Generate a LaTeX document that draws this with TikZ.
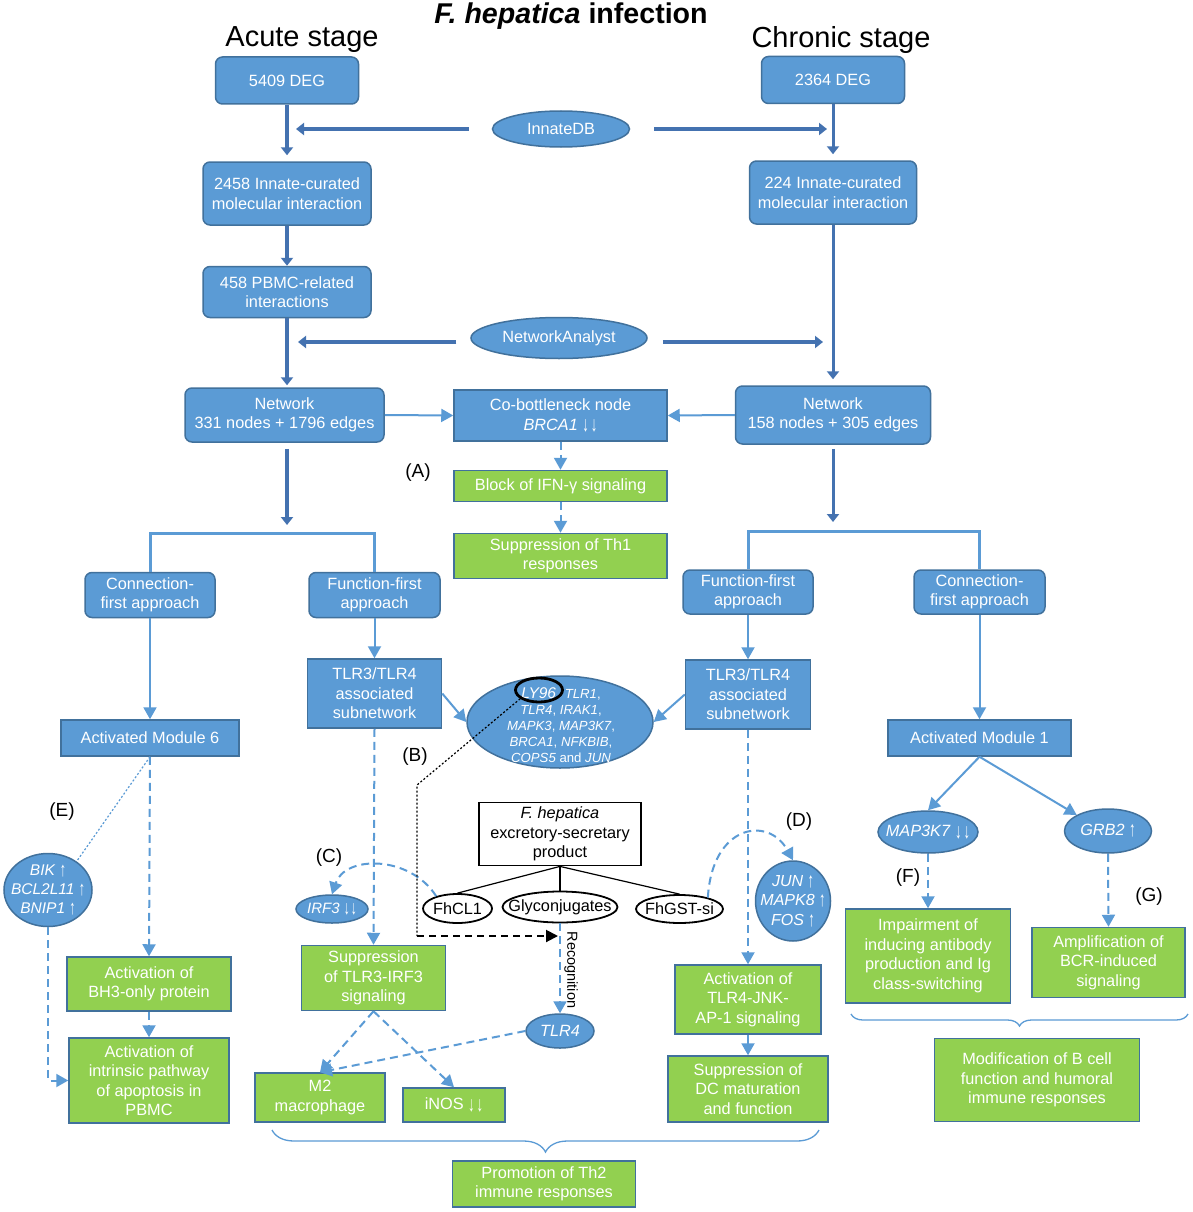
\documentclass[tikz,border=0pt]{standalone}
\usepackage{fontspec}
\setmainfont{Liberation Sans}
\usetikzlibrary{shapes.geometric,arrows.meta,decorations.pathreplacing}
\definecolor{bfill}{RGB}{91,155,213}
\definecolor{bdr}{RGB}{65,113,156}
\definecolor{gfill}{RGB}{146,208,80}
\definecolor{lb}{RGB}{91,155,213}
\definecolor{db}{RGB}{68,114,176}
\newcommand\fmain{\fontsize{16.3}{19.5}\selectfont}
\newcommand\fhub{\fontsize{13.2}{16}\selectfont}
\newcommand\flab{\fontsize{19}{22}\selectfont}
\newcommand\frec{\fontsize{14.5}{16}\selectfont}
\newcommand\dnarr{\raisebox{-0.1em}{\scalebox{0.8}[1.3]{↓}}}
\newcommand\uparr{\raisebox{-0.05em}{\scalebox{0.8}[1.3]{↑}}}
\tikzset{
 base/.style={draw=bdr, line width=1.5pt, text=white, font=\fmain, align=center, inner sep=0pt},
 rbox/.style={base, fill=bfill, rounded corners=7pt},
 sbox/.style={base, fill=bfill},
 gbox/.style={base, fill=gfill},
 ell/.style={base, fill=bfill, ellipse},
 bell/.style={draw=black, line width=1.8pt, ellipse, fill=white, inner sep=0pt},
 etxt/.style={text=white, font=\fmain, align=center, inner sep=0pt},
 btxt/.style={text=black, font=\fmain, align=center, inner sep=0pt},
 conn/.style={draw=lb, line width=2pt, -{Triangle[width=13pt,length=12pt]}},
 dconn/.style={conn, dash pattern=on 8pt off 5pt},
 bigarr/.style={draw=db, line width=4.5pt, -{Triangle[width=12pt,length=8pt]}},
 branch/.style={draw=lb, line width=3pt},
 lab/.style={font=\flab, text=black, inner sep=0pt},
 sz/.style 2 args={minimum width=#1pt, minimum height=#2pt},
}
\begin{document}
\begin{tikzpicture}[x=1pt,y=-1pt]
\useasboundingbox (0,0) rectangle (1192,1212);
\fill[white] (0,0) rectangle (1192,1212);

% titles
\node[font=\fontsize{28.6}{32}\selectfont\bfseries] (title) at (571,16) {\textit{F. hepatica} infection};
\node[font=\fontsize{29}{32}\selectfont] (acute) at (302,40) {Acute stage};
\node[font=\fontsize{29}{32}\selectfont] (chronic) at (841,40) {Chronic stage};

% top boxes
\node[rbox, sz={143}{47}] (deg1) at (287,80.5) {5409 DEG};
\node[rbox, sz={143}{47}] (deg2) at (833,80) {2364 DEG};
\node[ell, sz={137}{36}] (innate) at (561,129) {};
\node[etxt] (innate-t) at (innate.center) {InnateDB};
\node[rbox, sz={168}{63}] (i2458) at (287,193.5) {2458 Innate-curated\\molecular interaction};
\node[rbox, sz={167}{63}] (i224) at (833,192.5) {224 Innate-curated\\molecular interaction};
\node[rbox, sz={168}{51}] (p458) at (287,292) {458 PBMC-related\\interactions};
\node[ell, sz={176}{41}] (netan) at (559,338) {};
\node[etxt] (netan-t) at (netan.center) {NetworkAnalyst};
\node[rbox, sz={199}{54}] (netL) at (284.5,415) {Network\\331 nodes + 1796 edges};
\node[sbox, sz={213}{51}] (cob) at (560.5,415.5) {Co-bottleneck node\\\textit{BRCA1} \dnarr\kern2pt\dnarr};
\node[rbox, sz={195}{58}] (netR) at (833,415) {Network\\158 nodes + 305 edges};
\node[gbox, sz={213}{31}] (block) at (560.5,486) {Block of IFN-γ signaling};
\node[gbox, sz={213}{45}] (th1) at (560.5,556) {Suppression of Th1\\responses};
\node[lab] (labA) at (418,473) {(A)};

% thick arrows
\coordinate (innL) at (296,129);
\coordinate (innR) at (827,129);
\coordinate (naL) at (298,342);
\coordinate (naR) at (823,342);
\draw[bigarr, shorten <=23pt] (innate.west) -- (innL);
\draw[bigarr, shorten <=24pt] (innate.east) -- (innR);
\draw[bigarr, shorten <=14pt] (netan.west |- naL) -- (naL);
\draw[bigarr, shorten <=15pt] (netan.east |- naR) -- (naR);
\draw[bigarr, shorten >=6pt] (deg1.south) -- (i2458.north);
\draw[bigarr] (i2458.south) -- (p458.north);
\draw[bigarr, shorten >=2pt] (p458.south) -- (p458.south |- netL.north);
\draw[bigarr, line width=3pt, shorten >=6pt] (deg2.south) -- (i224.north);
\draw[bigarr, line width=3pt, shorten >=6pt] (i224.south) -- (netR.north);

\draw[conn] (netL.east) -- (cob.west);
\draw[conn] (netR.west) -- (cob.east);
\draw[dconn] (cob.south) -- (block.north);
\draw[dconn] (block.south) -- (th1.north);

% branches
\node[rbox, sz={130}{45}] (connL) at (150,595) {Connection-\\first approach};
\node[rbox, sz={131}{45}] (funcL) at (374.5,595) {Function-first\\approach};
\node[rbox, sz={130}{44}] (funcR) at (748,592) {Function-first\\approach};
\node[rbox, sz={131}{44}] (connR) at (979.5,592) {Connection-\\first approach};
\coordinate (brL) at (287,533);
\coordinate (brR) at (833,531);
\draw[bigarr, shorten <=6pt, shorten >=8pt] (netL.south -| brL) -- (brL);
\draw[bigarr, line width=3pt, shorten <=4pt, shorten >=9pt] (netR.south) -- (brR);
\draw[branch] (connL.north) |- (brL) -| (funcL.north);
\draw[branch] (funcR.north) |- (brR) -| (connR.north);

% left module
\node[sbox, sz={178}{36}] (mod6) at (150,738) {Activated Module 6};
\draw[conn] (connL.south) -- (mod6.north);
\node[ell, sz={88}{73}] (bik) at (48,890) {};
\node[etxt, font=\fontsize{15.5}{19}\selectfont] (bik-t) at (bik.center) {\textit{BIK} \uparr\\\textit{BCL2L11} \uparr\\\textit{BNIP1} \uparr};
\node[lab] (labE) at (62,812) {(E)};
\node[gbox, sz={164}{54}] (bh3) at (149,984) {Activation of\\BH3-only protein};
\node[gbox, sz={160}{85}] (apop) at (149,1080.5) {Activation of\\intrinsic pathway\\of apoptosis in\\PBMC};
\draw[lb, line width=1.2pt, dash pattern=on 2pt off 2pt] (mod6.south) -- (bik.45);
\draw[dconn] (mod6.south) -- (bh3.north);
\draw[dconn] (bh3.south) -- (apop.north);
\draw[dconn] (bik.south) |- (apop.west);

% TLR3/TLR4 subnetworks and hub
\node[sbox, sz={134}{69}] (tlrL) at (374.5,693.5) {TLR3/TLR4\\associated\\subnetwork};
\node[sbox, sz={125}{69}] (tlrR) at (748,694.5) {TLR3/TLR4\\associated\\subnetwork};
\draw[conn] (funcL.south) -- (tlrL.north);
\draw[conn] (funcR.south) -- (tlrR.north);
\node[ell, sz={186}{92}] (hub) at (560,722) {};
\node[etxt, font=\fhub] (hub-t) at (561,725) {{\fontsize{15.5}{16}\selectfont\textit{LY96}}\hspace{5pt} \textit{TLR1},\\\textit{TLR4}, \textit{IRAK1},\\\textit{MAPK3}, \textit{MAP3K7},\\\textit{BRCA1}, \textit{NFKBIB},\\\textit{COPS5} and \textit{JUN}};
\node[draw=black, line width=2.8pt, ellipse, sz={47}{24}, inner sep=0pt] (ly) at (539,690) {};
\draw[conn] (tlrL.east) -- (hub.west);
\draw[conn] (tlrR.west) -- (hub.east);
\node[lab] (labB) at (415,757) {(B)};

% ES product
\node[draw=black, line width=1.8pt, fill=white, sz={162}{63}, text=black, font=\fmain, align=center, inner sep=0pt] (es) at (560,834) {\textit{F. hepatica}\\excretory-secretary\\product};
\node[bell, sz={69}{29}] (fhcl) at (457.5,908.5) {};
\node[btxt] (fhcl-t) at (fhcl.center) {FhCL1};
\node[bell, sz={115}{31}] (glyco) at (560,907) {};
\node[btxt] (glyco-t) at (glyco.center) {Glyconjugates};
\node[bell, sz={87}{28}] (fhgst) at (679.5,909) {};
\node[btxt] (fhgst-t) at (fhgst.center) {FhGST-si};
\draw[black, line width=1.2pt] (es.south) -- (fhcl.north);
\draw[black, line width=1.2pt] (es.south) -- (glyco.north);
\draw[black, line width=1.2pt] (es.south) -- (fhgst.north);

% IRF3 branch
\node[ell, sz={72}{28}] (irf) at (332,909) {};
\node[etxt, font=\fontsize{15}{18}\selectfont] (irf-t) at (irf.center) {\textit{IRF3} \dnarr\kern1pt\dnarr};
\node[lab] (labC) at (329,858) {(C)};
\node[gbox, sz={144}{65}] (sup3) at (373.5,978) {Suppression\\of TLR3-IRF3\\signaling};
\draw[dconn] (tlrL.south) -- (sup3.north);
\draw[dconn] (fhcl.150) .. controls (410,855) and (345,855) .. (irf.north);

% LY96 pointer
\coordinate (bend1) at (417,785);
\coordinate (bend2) at (417,936);
\coordinate (recog) at (558,936);
\draw[black, line width=1.2pt, dash pattern=on 2pt off 2pt] (ly.205) -- (bend1) -- (bend2);
\draw[black, line width=2pt, dash pattern=on 7pt off 5pt, -{Triangle[width=12pt,length=12pt]}] (bend2) -- (recog);

% recognition and TLR4
\node[ell, sz={68}{34}] (tlr4) at (560,1031) {};
\node[etxt] (tlr4-t) at (tlr4.center) {\textit{TLR4}};
\draw[dconn] (glyco.south) -- (tlr4.north);
\node[font=\frec, rotate=-90, inner sep=0pt] (rectxt) at (571,970) {Recognition};
\node[gbox, sz={130}{49}] (m2) at (320,1097.5) {M2\\macrophage};
\node[gbox, sz={102}{34}] (inos) at (454,1105) {iNOS \dnarr\kern2pt\dnarr};
\draw[dconn] (sup3.south) -- (m2.north);
\draw[dconn] (sup3.south) -- (inos.north);
\draw[dconn] (tlr4.west) -- (m2.north);

% right chronic path
\node[ell, sz={75}{80}] (jun) at (793,901) {};
\node[etxt, font=\fontsize{16}{19.5}\selectfont] (jun-t) at (jun.center) {\textit{JUN} \uparr\\\textit{MAPK8} \uparr\\\textit{FOS} \uparr};
\node[lab] (labD) at (799,822) {(D)};
\draw[dconn] (fhgst.22) .. controls (712,825) and (768,815) .. (jun.north);
\node[gbox, sz={146}{69}] (jnk) at (748,999.5) {Activation of\\TLR4-JNK-\\AP-1 signaling};
\node[gbox, sz={160}{66}] (dc) at (748,1089) {Suppression of\\DC maturation\\and function};
\draw[dconn] (tlrR.south) -- (jnk.north);
\draw[conn] (jnk.south) -- (dc.north);

% bottom brace left
\coordinate (bl1) at (272,1130);
\coordinate (bl2) at (819,1130);
\draw[lb, line width=1.3pt, decorate, decoration={brace, amplitude=22pt, mirror}] (bl1) -- (bl2);
\node[gbox, sz={183}{46}] (th2) at (544,1184) {Promotion of Th2\\immune responses};

% module 1
\node[sbox, sz={183}{36}] (mod1) at (979.5,738) {Activated Module 1};
\draw[conn] (connR.south) -- (mod1.north);
\node[ell, sz={100}{42}] (map) at (928,832) {};
\node[etxt] (map-t) at (map.center) {\textit{MAP3K7} \dnarr\kern2pt\dnarr};
\node[ell, sz={87}{44}] (grb) at (1108,831) {};
\node[etxt] (grb-t) at (grb.center) {\textit{GRB2} \uparr};
\draw[conn] (mod1.south) -- (map.north);
\draw[conn] (mod1.south) -- (grb.north west);
\node[lab] (labF) at (908,878) {(F)};
\node[lab] (labG) at (1149,897) {(G)};
\node[gbox, sz={165}{94}] (imp) at (928,956) {Impairment of\\inducing antibody\\production and Ig\\class-switching};
\node[gbox, sz={153}{70}] (amp) at (1108.5,962.5) {Amplification of\\BCR-induced\\signaling};
\draw[dconn] (map.south) -- (imp.north);
\draw[dconn] (grb.south) -- (amp.north);
\coordinate (br1) at (851,1014);
\coordinate (br2) at (1188,1014);
\draw[lb, line width=1.3pt, decorate, decoration={brace, amplitude=12pt, mirror}] (br1) -- (br2);
\node[gbox, sz={205}{83}] (modif) at (1037,1080) {Modification of B cell\\function and humoral\\immune responses};
\end{tikzpicture}
\end{document}
